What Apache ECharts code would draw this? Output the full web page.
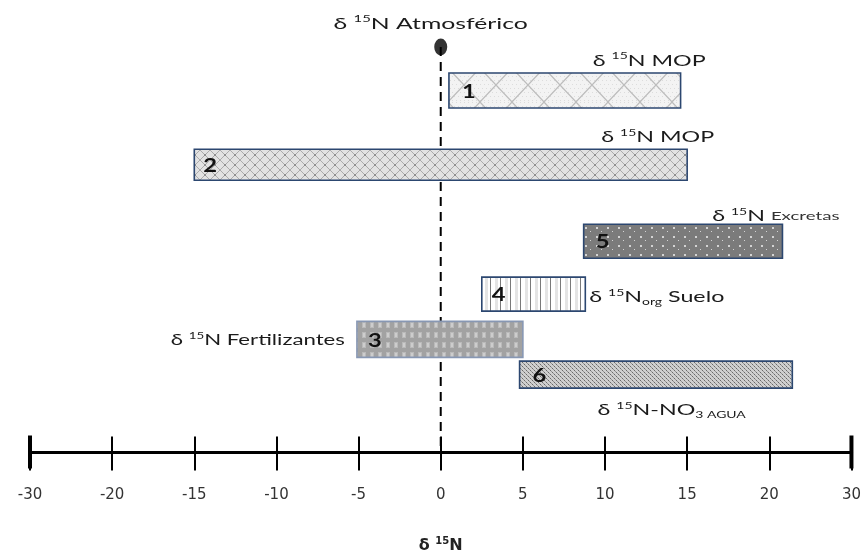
<!DOCTYPE html>
<html><head><meta charset="utf-8">
<script src="https://cdn.jsdelivr.net/npm/echarts@6/dist/echarts.min.js"></script>
<style>html,body{margin:0;padding:0;background:#fff}#c{width:864px;height:559px}</style>
</head><body><div id="c"></div>
<script>
// ---------- data ----------
const barIds    = ['1', '2', '5', '4', '3', '6'];
const barStart  = [0.5, -15, 8.7, 2.5, -5.1, 4.8];
const barEnd    = [14.6, 15, 20.8, 8.8, 5, 21.4];
const barLevel  = [8.0, 6.36, 4.67, 3.5, 2.5, 1.72];
const barLabels = [
  '{t|δ }{s|15}{t|N MOP}',
  '{t|δ }{s|15}{t|N MOP}',
  '{t|δ }{s|15}{t|N }{m|Excretas}',
  '{t|δ }{s|15}{t|N}{b|org}{t| Suelo}',
  '{t|δ }{s|15}{t|N Fertilizantes}',
  '{t|δ }{s|15}{t|N-NO}{b|3 AGUA}'
];
const atmValue  = [0];
const atmLevel  = [8.96];
const atmLabel  = '{t|δ }{s|15}{t|N Atmosférico}';
const xRange    = [-25, 25];
const tickStep  = 5;
const tickLabels = ['-30', '-20', '-15', '-10', '-5', '0', '5', '10', '15', '20', '30'];
const axisTitle = '{t|δ }{s|15}{t|N}';

// ---------- styles ----------
function pat(w, h, bg, draw) {
  const c = document.createElement('canvas'); c.width = w; c.height = h;
  const g = c.getContext('2d'); g.fillStyle = bg; g.fillRect(0, 0, w, h); draw(g);
  return { image: c, repeat: 'repeat' };
}
const fills = [
  pat(32, 34, '#f3f3f3', g => {
    g.fillStyle = '#dcdcdc';
    for (let x = 0; x < 32; x += 4) for (let y = 0; y < 34; y += 4) g.fillRect(x + ((y / 4) % 2) * 2, y, 1, 1);
    g.strokeStyle = '#bdbdbd'; g.lineWidth = 1.2;
    g.beginPath(); g.moveTo(0, 0); g.lineTo(32, 34); g.moveTo(32, 0); g.lineTo(0, 34); g.stroke();
  }),
  pat(10, 10, '#e2e2e2', g => {
    g.strokeStyle = '#ababab'; g.lineWidth = 1;
    g.beginPath(); g.moveTo(0, 0); g.lineTo(10, 10); g.moveTo(10, 0); g.lineTo(0, 10); g.stroke();
    g.fillStyle = '#8f8f8f'; g.fillRect(4, 4, 2, 2);
  }),
  pat(11, 9, '#7b7b7b', g => {
    g.fillStyle = '#d4d4d4'; g.fillRect(2, 2, 2, 2); g.fillRect(7, 6, 1, 1);
  }),
  pat(10, 4, '#ffffff', g => {
    g.fillStyle = '#7a7a7a'; g.fillRect(0, 0, 1, 4);
    g.fillStyle = '#e4e4e4'; g.fillRect(5, 0, 3, 4);
  }),
  pat(8, 10, '#a2a2a2', g => {
    g.fillStyle = '#bababa'; g.fillRect(2, 2, 4, 6);
    g.fillStyle = '#cdcdcd'; g.fillRect(3, 3, 2, 4);
  }),
  pat(4, 4, '#cfcfcf', g => {
    g.fillStyle = '#6a6a6a'; g.fillRect(0, 0, 1, 1); g.fillRect(2, 2, 1, 1);
    g.fillStyle = '#959595'; g.fillRect(1, 1, 1, 1); g.fillRect(3, 3, 1, 1);
  })
];
const barHeights = [35, 31, 34, 34, 36, 27];
const borderColors = ['#2c4770', '#2c4770', '#2c4770', '#2c4770', '#8797b3', '#2c4770'];
// label placement: anchor on bar edge, pixel offsets
const labelPlace = [
  { ax: 'end',   dx: 25,  ay: 'top',    dy: -12, align: 'right' },
  { ax: 'end',   dx: 27,  ay: 'top',    dy: -12, align: 'right' },
  { ax: 'end',   dx: 57,  ay: 'top',    dy: -8,  align: 'right' },
  { ax: 'end',   dx: 4,   ay: 'mid',    dy: 3,   align: 'left'  },
  { ax: 'start', dx: -12, ay: 'mid',    dy: 1,   align: 'right' },
  { ax: 'start', dx: 78,  ay: 'bottom', dy: 22,  align: 'left'  }
];
const numOffset = [13, 9, 12, 10, 11, 13];
const TXT = '#1b1b1b';
const FONT = 'Lato';
const rich = {
  t: { fontFamily: FONT, fontSize: 15, fill: TXT },
  m: { fontFamily: FONT, fontSize: 12, fill: '#333' },
  s: { fontFamily: FONT, fontSize: 9, fill: TXT, padding: [0, 0, 9, 0] },
  b: { fontFamily: FONT, fontSize: 9, fill: TXT, padding: [9, 0, 0, 0] }
};
const TEXT_SCALE = 1.55;
const LEFT_TEXT_SCALE = 1.48;

function renderBar(params, api) {
  const i = params.dataIndex;
  const s = api.coord([api.value(0), api.value(2)]);
  const e = api.coord([api.value(1), api.value(2)]);
  const h = barHeights[i];
  const top = s[1] - h / 2, bottom = s[1] + h / 2;
  const lp = labelPlace[i];
  const lx = (lp.ax === 'end' ? e[0] : s[0]) + lp.dx;
  const ly = (lp.ay === 'top' ? top : lp.ay === 'bottom' ? bottom : s[1]) + lp.dy;
  return {
    type: 'group',
    children: [
      { type: 'rect', shape: { x: s[0], y: top, width: e[0] - s[0], height: h },
        style: { fill: fills[i], stroke: borderColors[i], lineWidth: 1.6 } },
      { type: 'text', x: s[0] + numOffset[i], y: s[1] + 1, scaleX: 1.25,
        style: { text: barIds[i], fontFamily: FONT, fontSize: 19, fontWeight: 'bold', fill: '#111',
                 align: 'left', verticalAlign: 'middle' } },
      { type: 'text', x: lx, y: ly, scaleX: lp.ax === 'start' && lp.align === 'right' ? LEFT_TEXT_SCALE : TEXT_SCALE,
        style: { text: barLabels[i], rich: rich, align: lp.align, verticalAlign: 'middle' } }
    ]
  };
}

function renderAtm(params, api) {
  const p = api.coord([api.value(0), api.value(1)]);
  return { type: 'text', x: p[0] - 10, y: p[1] - 23, scaleX: 1.65,
    style: { text: atmLabel, rich: rich, align: 'center', verticalAlign: 'middle' } };
}

function renderEnds(params, api) {
  const p = api.coord([api.value(0), 0]);
  return { type: 'line', shape: { x1: p[0], y1: p[1] - 17, x2: p[0], y2: p[1] + 16 },
    style: { stroke: '#000', lineWidth: 4 } };
}

const xCommon = { type: 'value', min: xRange[0], max: xRange[1], interval: tickStep, splitLine: { show: false } };

const option = {
  animation: false,
  backgroundColor: '#fff',
  grid: { left: 30, right: 11, top: 0, bottom: 99 },
  xAxis: [
    Object.assign({}, xCommon, {
      position: 'bottom',
      axisLine: { show: true, onZero: false, lineStyle: { color: '#000', width: 3 } },
      axisTick: { show: true, inside: false, length: 18, lineStyle: { color: '#000', width: 2 } },
      axisLabel: { margin: 35, fontFamily: 'DejaVu Sans', fontSize: 15, color: '#333',
        formatter: v => tickLabels[Math.round((v - xRange[0]) / tickStep)] },
      name: axisTitle, nameLocation: 'middle', nameGap: 84,
      nameTextStyle: { rich: {
        t: { fontFamily: 'DejaVu Sans', fontSize: 16, fontWeight: 'bold', color: '#222' },
        s: { fontFamily: 'DejaVu Sans', fontSize: 10, fontWeight: 'bold', color: '#222', padding: [0, 0, 9, 0] } } }
    }),
    Object.assign({}, xCommon, {
      position: 'bottom',
      axisLine: { show: false, onZero: false },
      axisTick: { show: true, inside: true, length: 16, lineStyle: { color: '#000', width: 2 } },
      axisLabel: { show: false }
    })
  ],
  yAxis: { type: 'value', min: 0, max: 10, show: false },
  series: [
    { type: 'line', data: [[atmValue[0], atmLevel[0]], [atmValue[0], 0]], symbol: 'none', z: 1,
      lineStyle: { color: '#000', width: 2, type: [9, 6] } },
    { type: 'scatter', data: atmValue.map((v, i) => [v, atmLevel[i]]), symbol: 'circle',
      symbolSize: [13, 17], itemStyle: { color: '#000' }, z: 3 },
    { type: 'custom', data: atmValue.map((v, i) => [v, atmLevel[i]]), renderItem: renderAtm, z: 3 },
    { type: 'custom', data: xRange.map(v => [v]), renderItem: renderEnds, z: 3 },
    { type: 'custom', data: barIds.map((id, i) => [barStart[i], barEnd[i], barLevel[i]]),
      renderItem: renderBar, z: 2 }
  ]
};
const chart = echarts.init(document.getElementById('c'));
chart.setOption(option);
</script>
</body></html>
